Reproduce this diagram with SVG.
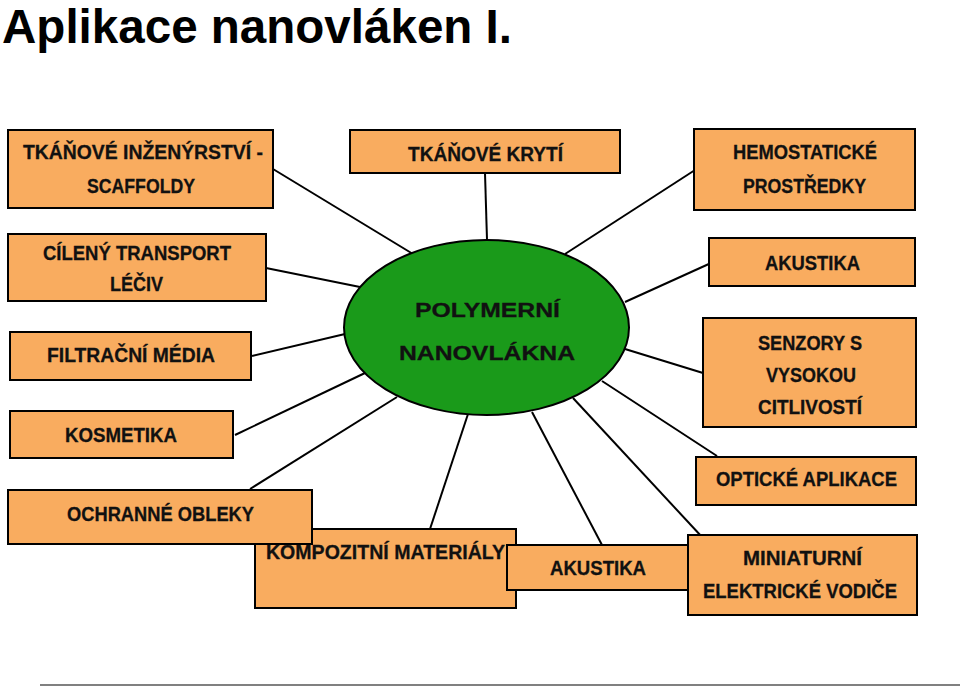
<svg xmlns="http://www.w3.org/2000/svg" width="960" height="687" viewBox="0 0 960 687">
<style>
.box{fill:#F9AC5F;stroke:#000;stroke-width:2}
.t{font-family:"Liberation Sans",Arial,sans-serif;font-weight:bold;font-size:21px;fill:#111;stroke:#111;stroke-width:0.3}
.c line{stroke:#000;stroke-width:2}
</style>
<rect width="960" height="687" fill="#fff"/>
<text x="2" y="43" font-family="'Liberation Sans',Arial,sans-serif" font-weight="bold" font-size="48" textLength="510" lengthAdjust="spacingAndGlyphs">Aplikace nanovláken I.</text>
<line x1="40" y1="685" x2="960" y2="685" stroke="#808080" stroke-width="2"/>
<g class="c" id="connectors">
<line x1="273" y1="169" x2="413" y2="254"/>
<line x1="266" y1="268" x2="360" y2="287"/>
<line x1="485" y1="173" x2="487" y2="240"/>
<line x1="695" y1="170" x2="565" y2="254"/>
<line x1="711" y1="263" x2="625" y2="302"/>
<line x1="252" y1="356" x2="345" y2="334"/>
<line x1="235" y1="435" x2="365" y2="373"/>
<line x1="250" y1="489" x2="397" y2="397"/>
<line x1="625" y1="349" x2="703" y2="373"/>
<line x1="602" y1="381" x2="717" y2="456"/>
<line x1="573" y1="398" x2="702" y2="537"/>
<line x1="532" y1="412" x2="602" y2="545"/>
<line x1="468" y1="414" x2="430" y2="529"/>
</g>
<g id="center">
<ellipse cx="486.5" cy="327.5" rx="142.5" ry="87.5" fill="#1A9A1A" stroke="#000" stroke-width="2"/>
<text class="t" x="415" y="317" font-size="28" textLength="145" lengthAdjust="spacingAndGlyphs">POLYMERNÍ</text>
<text class="t" x="399" y="360" font-size="28" textLength="176" lengthAdjust="spacingAndGlyphs">NANOVLÁKNA</text>
</g>
<g id="n1"><rect class="box" x="8" y="130" width="265" height="78"/>
<text class="t" x="23" y="159" textLength="240" lengthAdjust="spacingAndGlyphs">TKÁŇOVÉ INŽENÝRSTVÍ -</text>
<text class="t" x="87" y="193" textLength="108" lengthAdjust="spacingAndGlyphs">SCAFFOLDY</text></g>
<g id="n2"><rect class="box" x="350" y="130" width="270" height="43"/>
<text class="t" x="408" y="161" textLength="155" lengthAdjust="spacingAndGlyphs">TKÁŇOVÉ KRYTÍ</text></g>
<g id="n3"><rect class="box" x="694" y="129" width="221" height="81"/>
<text class="t" x="733" y="159" textLength="144" lengthAdjust="spacingAndGlyphs">HEMOSTATICKÉ</text>
<text class="t" x="743" y="193" textLength="123" lengthAdjust="spacingAndGlyphs">PROSTŘEDKY</text></g>
<g id="n4"><rect class="box" x="8" y="234" width="258" height="67"/>
<text class="t" x="43" y="260" textLength="188" lengthAdjust="spacingAndGlyphs">CÍLENÝ TRANSPORT</text>
<text class="t" x="110" y="291" textLength="53" lengthAdjust="spacingAndGlyphs">LÉČIV</text></g>
<g id="n5"><rect class="box" x="709" y="238" width="206" height="48"/>
<text class="t" x="765" y="270" textLength="95" lengthAdjust="spacingAndGlyphs">AKUSTIKA</text></g>
<g id="n6"><rect class="box" x="10" y="332" width="241" height="48"/>
<text class="t" x="47" y="362" textLength="168" lengthAdjust="spacingAndGlyphs">FILTRAČNÍ MÉDIA</text></g>
<g id="n7"><rect class="box" x="703" y="318" width="213" height="109"/>
<text class="t" x="758" y="350" textLength="104" lengthAdjust="spacingAndGlyphs">SENZORY S</text>
<text class="t" x="766" y="382" textLength="90" lengthAdjust="spacingAndGlyphs">VYSOKOU</text>
<text class="t" x="758" y="414" textLength="104" lengthAdjust="spacingAndGlyphs">CITLIVOSTÍ</text></g>
<g id="n8"><rect class="box" x="10" y="411" width="223" height="47"/>
<text class="t" x="65" y="442" textLength="112" lengthAdjust="spacingAndGlyphs">KOSMETIKA</text></g>
<g id="n9"><rect class="box" x="696" y="457" width="220" height="48"/>
<text class="t" x="716" y="486" textLength="181" lengthAdjust="spacingAndGlyphs">OPTICKÉ APLIKACE</text></g>
<g id="n11"><rect class="box" x="255" y="529" width="261" height="79"/>
<text class="t" x="266" y="559" textLength="239" lengthAdjust="spacingAndGlyphs">KOMPOZITNÍ MATERIÁLY</text></g>
<g id="n10"><rect class="box" x="8" y="490" width="304" height="54"/>
<text class="t" x="67" y="521" textLength="187" lengthAdjust="spacingAndGlyphs">OCHRANNÉ OBLEKY</text></g>
<g id="n12"><rect class="box" x="507" y="545" width="183" height="45"/>
<text class="t" x="550" y="575" textLength="96" lengthAdjust="spacingAndGlyphs">AKUSTIKA</text></g>
<g id="n13"><rect class="box" x="688" y="535" width="229" height="80"/>
<text class="t" x="743" y="565" textLength="119" lengthAdjust="spacingAndGlyphs">MINIATURNÍ</text>
<text class="t" x="703" y="598" textLength="194" lengthAdjust="spacingAndGlyphs">ELEKTRICKÉ VODIČE</text></g>
</svg>
